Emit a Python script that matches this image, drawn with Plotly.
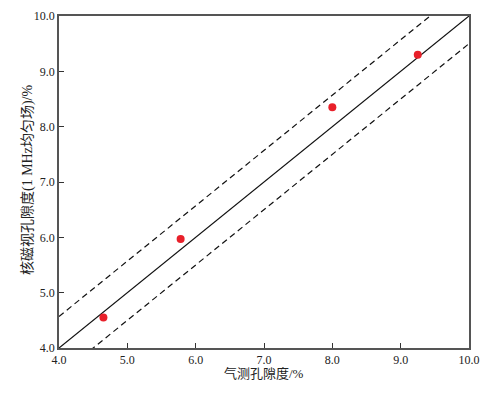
import plotly.graph_objects as go

# data
gas_porosity = [4.65, 5.78, 8.00, 9.25]
nmr_porosity = [4.55, 5.97, 8.35, 9.30]
ref_x = [4.0, 10.0]
upper_offset = 0.57
lower_offset = -0.5
tick_vals = [4, 5, 6, 7, 8, 9, 10]
tick_text = ["4.0", "5.0", "6.0", "7.0", "8.0", "9.0", "10.0"]
x_title = "气测孔隙度/%"
y_title = "核磁视孔隙度(1 MHz均匀场)/%"

font_fam = "Liberation Serif, Times New Roman, Noto Sans CJK SC, serif"

fig = go.Figure()
fig.add_trace(go.Scatter(x=ref_x, y=ref_x, mode="lines",
                         line=dict(color="#111111", width=1.2), showlegend=False))
fig.add_trace(go.Scatter(x=ref_x, y=[v + upper_offset for v in ref_x], mode="lines",
                         line=dict(color="#111111", width=1.2, dash="6px,4px"), showlegend=False))
fig.add_trace(go.Scatter(x=ref_x, y=[v + lower_offset for v in ref_x], mode="lines",
                         line=dict(color="#111111", width=1.2, dash="6px,4px"), showlegend=False))
fig.add_trace(go.Scatter(x=gas_porosity, y=nmr_porosity, mode="markers",
                         marker=dict(color="#e8202a", size=8), showlegend=False,
                         cliponaxis=False))

axis_common = dict(
    showgrid=False, zeroline=False, showline=True, linecolor="#555555", linewidth=1.5,
    mirror=True, ticks="inside", ticklen=5, tickcolor="#333333", tickwidth=1,
    tickfont=dict(family=font_fam, size=12, color="#222222"),
    tickmode="array", tickvals=tick_vals, ticktext=tick_text, automargin=False,
)

# page body has an 8px default margin; figure sized/margined to compensate
fig.update_layout(
    width=473, height=377,
    margin=dict(l=51, r=12, t=8, b=37),
    plot_bgcolor="white", paper_bgcolor="white",
    xaxis=dict(range=[4, 10], **axis_common),
    yaxis=dict(range=[4, 10], **axis_common),
    annotations=[
        dict(text=x_title, xref="paper", yref="paper", x=0.5, y=0, xanchor="center",
             yanchor="middle", yshift=-25, showarrow=False,
             font=dict(family=font_fam, size=13, color="#222222")),
        dict(text=y_title, xref="paper", yref="paper", x=0, y=0.5, xanchor="center",
             yanchor="middle", xshift=-31, yshift=2, textangle=-90, showarrow=False,
             font=dict(family=font_fam, size=14, color="#222222")),
    ],
)

fig.write_html("out.html")
